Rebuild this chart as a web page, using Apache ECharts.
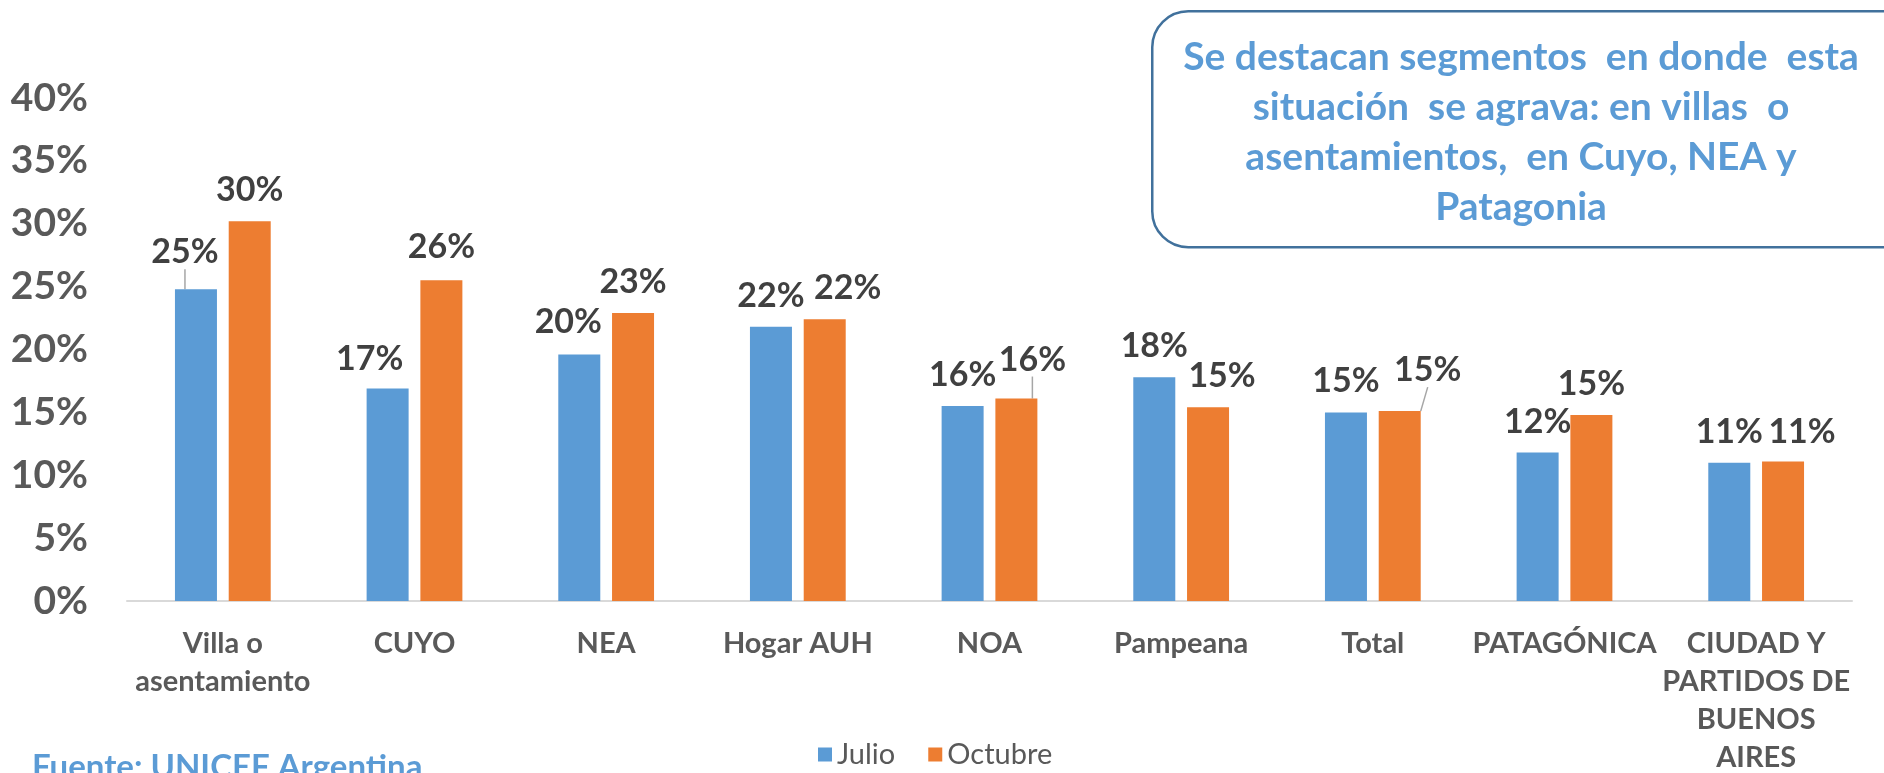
<!DOCTYPE html>
<html lang="es">
<head>
<meta charset="UTF-8">
<title>Julio vs Octubre</title>
<style>
  html, body { margin: 0; padding: 0; background: #fff; }
  #chart { width: 1884px; height: 773px; }
</style>
</head>
<body>
<div id="chart"></div>
<script src="https://cdn.jsdelivr.net/npm/echarts@6/dist/echarts.min.js"></script>
<script>
var categories = ['Villa o\nasentamiento', 'CUYO', 'NEA', 'Hogar AUH', 'NOA', 'Pampeana', 'Total', 'PATAGÓNICA', 'CIUDAD Y\nPARTIDOS DE\nBUENOS\nAIRES'];
var julio   = [24.8, 16.9, 19.6, 21.8, 15.5, 17.8, 15.0, 11.8, 11.0];
var octubre = [30.2, 25.5, 22.9, 22.4, 16.1, 15.4, 15.1, 14.8, 11.1];
var yTicks  = [0, 5, 10, 15, 20, 25, 30, 35, 40];

// label nudges (Excel moved a few labels by hand), and which ones get a leader line
var nudges = [
  [[-11, -6], [-18, 2], [-11, -1], [0, 0], [0, 0], [0, 0], [0, 0], [0, 0], [0, 0]],
  [[0, 0], [0, -2], [0, 0], [23, 0], [16, -8], [14, 0], [28, -10], [0, 0], [19, 2]]
];
var leaders = [[0], [4, 6]];

var font = 'Lato, "Open Sans", sans-serif';

function toData(values, s) {
  return values.map(function (v, i) {
    return { value: v, labelLine: { show: leaders[s].indexOf(i) >= 0 } };
  });
}

function barSeries(name, values, color, s) {
  return {
    name: name,
    type: 'bar',
    barWidth: 42,
    barGap: '28%',
    itemStyle: { color: color },
    data: toData(values, s),
    label: {
      show: true,
      position: 'top',
      distance: 14,
      color: '#404040',
      fontFamily: font,
      fontWeight: 'bold',
      fontSize: 34,
      formatter: function (p) { return Math.round(p.value) + '%'; }
    },
    labelLine: { show: false, lineStyle: { color: '#a6a6a6', width: 1.5 } },
    labelLayout: function (p) {
      var o = nudges[p.seriesIndex][p.dataIndex];
      return { dx: o[0], dy: o[1] };
    }
  };
}

var myChart = echarts.init(document.getElementById('chart'));
var option = {
  animation: false,
  grid: { left: 127, right: 32, top: 98, bottom: 172, containLabel: false, outerBoundsMode: 'none' },
  legend: {
    data: ['Julio', 'Octubre'],
    left: 818,
    top: 740,
    padding: 0,
    itemWidth: 14,
    itemHeight: 14,
    itemGap: 33,
    icon: 'rect',
    textStyle: { color: '#595959', fontFamily: font, fontSize: 29 }
  },
  xAxis: {
    type: 'category',
    data: categories,
    axisLine: { lineStyle: { color: '#d9d9d9', width: 2 } },
    axisTick: { show: false },
    axisLabel: {
      interval: 0,
      margin: 24,
      color: '#595959',
      fontFamily: font,
      fontWeight: 'bold',
      fontSize: 29,
      lineHeight: 38
    }
  },
  yAxis: {
    type: 'value',
    min: yTicks[0],
    max: yTicks[yTicks.length - 1],
    interval: yTicks[1] - yTicks[0],
    axisLine: { show: false },
    axisTick: { show: false },
    splitLine: { show: false },
    axisLabel: {
      margin: 39,
      color: '#595959',
      fontFamily: font,
      fontWeight: 'bold',
      fontSize: 39,
      formatter: '{value}%'
    }
  },
  graphic: [
    {
      type: 'rect',
      left: 1151,
      top: 10,
      shape: { width: 770, height: 236, r: 36 },
      style: { fill: '#fff', stroke: '#41719c', lineWidth: 2.5 },
      z: 10
    },
    {
      type: 'text',
      x: 1521,
      y: 32,
      z: 11,
      style: {
        text: 'Se destacan segmentos  en donde  esta\nsituación  se agrava: en villas  o\nasentamientos,  en Cuyo, NEA y\nPatagonia',
        align: 'center',
        fill: '#5b9bd5',
        font: 'bold 39px ' + font,
        lineHeight: 50
      }
    },
    {
      type: 'text',
      left: 32,
      top: 751,
      z: 11,
      style: {
        text: 'Fuente: UNICEF Argentina',
        fill: '#5b9bd5',
        font: 'bold 33px ' + font
      }
    }
  ],
  series: [
    barSeries('Julio', julio, '#5b9bd5', 0),
    barSeries('Octubre', octubre, '#ed7d31', 1)
  ]
};
myChart.setOption(option);
</script>
</body>
</html>
